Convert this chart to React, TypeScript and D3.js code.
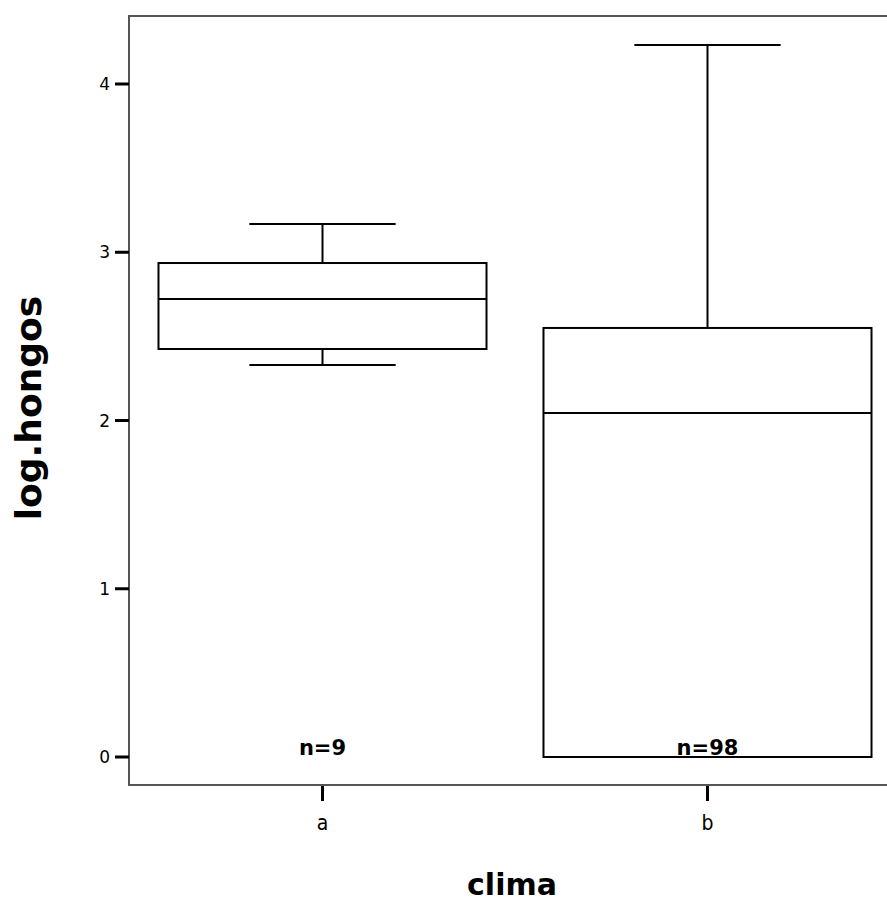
import React, { useEffect, useRef } from 'react';
import * as d3 from 'd3';

const categories = ['a', 'b'];
const counts = [9, 98];
const whiskerLow = [2.33, 0];
const q1 = [2.425, 0];
const median = [2.722, 2.045];
const q3 = [2.936, 2.55];
const whiskerHigh = [3.168, 4.232];
const yTicks = [0, 1, 2, 3, 4];

const App = () => {
  const ref = useRef<SVGSVGElement>(null);

  useEffect(() => {
    const svg = d3.select(ref.current);
    svg.selectAll('*').remove();

    // plot area (right edge falls outside the window, as in the original)
    const left = 129, right = 900, top = 16, bottom = 785;

    const x = d3.scaleBand().domain(categories).range([130, 900]).padding(0);
    const y = d3.scaleLinear().domain([0, 4]).range([757, 84]);

    const boxW = x.bandwidth() * 0.852;
    const capW = x.bandwidth() * 0.38;

    svg.append('rect')
      .attr('x', left).attr('y', top)
      .attr('width', right - left).attr('height', bottom - top)
      .attr('fill', 'none').attr('stroke', '#555').attr('stroke-width', 2);

    // y axis ticks
    const yAxis = svg.append('g');
    yAxis.selectAll('line').data(yTicks).enter().append('line')
      .attr('x1', left - 14).attr('x2', left)
      .attr('y1', d => y(d)).attr('y2', d => y(d))
      .attr('stroke', '#000').attr('stroke-width', 3);
    yAxis.selectAll('text').data(yTicks).enter().append('text')
      .attr('x', left - 19).attr('y', d => y(d)).attr('dy', '0.36em')
      .attr('text-anchor', 'end')
      .style('font-family', 'DejaVu Sans').style('font-size', '17px')
      .text(d => d);

    // x axis ticks
    const xAxis = svg.append('g');
    categories.forEach(c => {
      const cx = x(c)! + x.bandwidth() / 2;
      xAxis.append('line')
        .attr('x1', cx).attr('x2', cx).attr('y1', bottom + 1).attr('y2', bottom + 16)
        .attr('stroke', '#000').attr('stroke-width', 3);
      xAxis.append('text')
        .attr('x', cx).attr('y', 830).attr('text-anchor', 'middle')
        .style('font-family', 'DejaVu Sans Condensed, DejaVu Sans').style('font-size', '21px')
        .text(c);
    });

    // boxes
    const g = svg.append('g').attr('fill', 'none').attr('stroke', '#000').attr('stroke-width', 2);
    categories.forEach((c, i) => {
      const cx = x(c)! + x.bandwidth() / 2;
      // whiskers
      g.append('line').attr('x1', cx).attr('x2', cx).attr('y1', y(q3[i])).attr('y2', y(whiskerHigh[i]));
      g.append('line').attr('x1', cx).attr('x2', cx).attr('y1', y(q1[i])).attr('y2', y(whiskerLow[i]));
      g.append('line').attr('x1', cx - capW / 2).attr('x2', cx + capW / 2)
        .attr('y1', y(whiskerHigh[i])).attr('y2', y(whiskerHigh[i]));
      g.append('line').attr('x1', cx - capW / 2).attr('x2', cx + capW / 2)
        .attr('y1', y(whiskerLow[i])).attr('y2', y(whiskerLow[i]));
      g.append('rect')
        .attr('x', cx - boxW / 2).attr('y', y(q3[i]))
        .attr('width', boxW).attr('height', y(q1[i]) - y(q3[i]));
      g.append('line').attr('x1', cx - boxW / 2).attr('x2', cx + boxW / 2)
        .attr('y1', y(median[i])).attr('y2', y(median[i]));

      svg.append('text')
        .attr('x', cx).attr('y', y(0) - 2).attr('text-anchor', 'middle')
        .style('font-family', 'DejaVu Sans').style('font-weight', 'bold').style('font-size', '21px')
        .text(`n=${counts[i]}`);
    });

    // axis titles
    svg.append('text')
      .attr('transform', `translate(41,${408}) rotate(-90)`)
      .attr('text-anchor', 'middle')
      .style('font-family', 'DejaVu Sans').style('font-weight', 'bold').style('font-size', '36px')
      .text('log.hongos');

    svg.append('text')
      .attr('x', 512).attr('y', 895).attr('text-anchor', 'middle')
      .style('font-family', 'DejaVu Sans').style('font-weight', 'bold').style('font-size', '30px')
      .text('clima');
  }, []);

  return (
    <svg ref={ref} width={887} height={904}
      style={{ position: 'absolute', left: 0, top: 0, background: '#fff' }} />
  );
};

export default App;
